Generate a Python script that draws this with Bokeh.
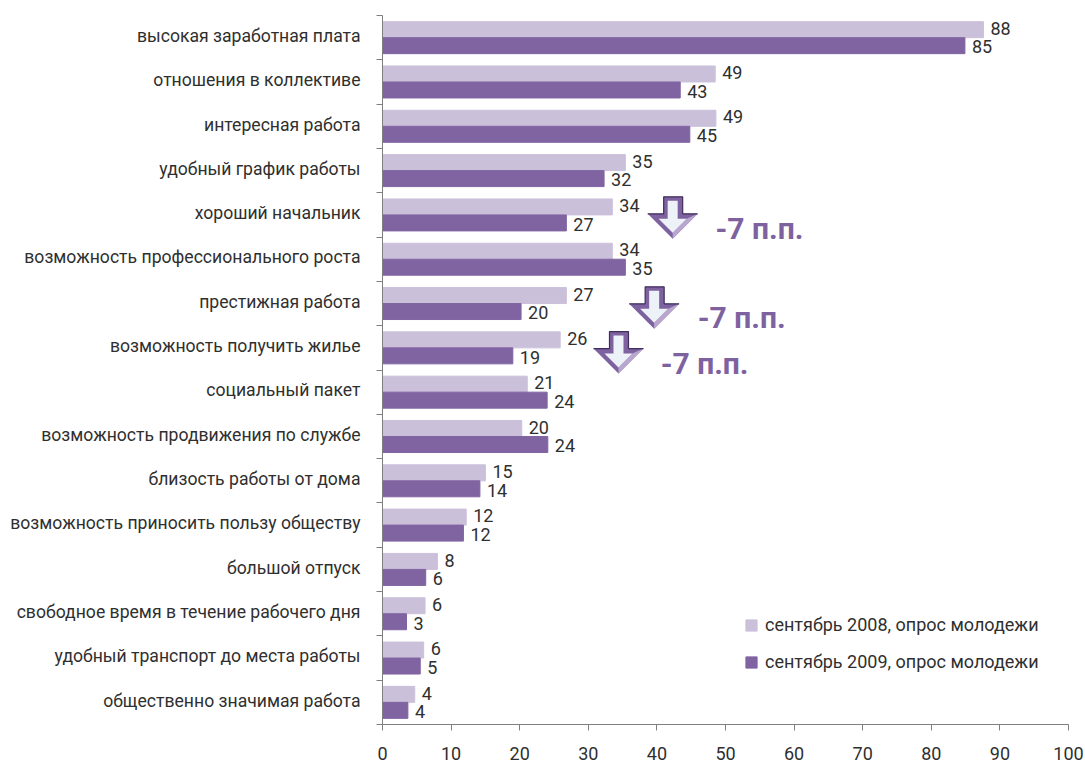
from bokeh.plotting import figure
from bokeh.models import Range1d, FixedTicker, Legend, LegendItem, ColumnDataSource
from bokeh.core.properties import value
from bokeh.embed import file_html
from bokeh.resources import INLINE

categories = ["высокая заработная плата", "отношения в коллективе", "интересная работа",
              "удобный график работы", "хороший начальник", "возможность профессионального роста",
              "престижная работа", "возможность получить жилье", "социальный пакет",
              "возможность продвижения по службе", "близость работы от дома",
              "возможность приносить пользу обществу", "большой отпуск",
              "свободное время в течение рабочего дня", "удобный транспорт до места работы",
              "общественно значимая работа"]
values_2008 = [87.6, 48.5, 48.6, 35.4, 33.5, 33.5, 26.8, 25.9, 21.1, 20.3, 15.0, 12.2, 8.0, 6.2, 6.0, 4.7]
values_2009 = [84.9, 43.4, 44.8, 32.3, 26.8, 35.4, 20.2, 19.0, 24.0, 24.1, 14.2, 11.8, 6.3, 3.5, 5.5, 3.7]
labels_2008 = ["88", "49", "49", "35", "34", "34", "27", "26", "21", "20", "15", "12", "8", "6", "6", "4"]
labels_2009 = ["85", "43", "45", "32", "27", "35", "20", "19", "24", "24", "14", "12", "6", "3", "5", "4"]
series_names = ["сентябрь 2008, опрос молодежи", "сентябрь 2009, опрос молодежи"]
x_ticks = [0, 10, 20, 30, 40, 50, 60, 70, 80, 90, 100]
# callouts: arrow tip (x value, row position) and the note beside it
callout_x = [42.3, 39.6, 34.4]
callout_y = [5.04, 7.07, 8.08]
callout_text_x = [48.55, 45.95, 40.55]
callout_text_y = [4.8, 6.81, 7.85]
callout_text = ["-7 п.п.", "-7 п.п.", "-7 п.п."]

FONT = "Roboto"
LIGHT = "#cbc0da"
DARK = "#8064a2"
INK = "#2f2f2f"
AXIS = "#7f7f7f"
PX_X = 100 / 686
PX_Y = 16 / 709

p = figure(width=1085, height=762, output_backend="svg", toolbar_location=None,
           x_range=Range1d(0, 100), y_range=Range1d(16, 0),
           min_border_left=382, min_border_right=17, min_border_top=15, min_border_bottom=38)
p.xgrid.visible = False
p.ygrid.visible = False
p.outline_line_color = None
p.background_fill_color = None
p.border_fill_color = "white"

n = len(categories)
centers = [i + 0.5 for i in range(n)]
h = 16 * PX_Y

src = ColumnDataSource(dict(
    y08=[c - h / 2 for c in centers], y09=[c + h / 2 for c in centers],
    v08=values_2008, v09=values_2009, l08=labels_2008, l09=labels_2009,
    ty08=[c - h / 2 - 0.03 for c in centers], ty09=[c + h / 2 + 0.03 for c in centers]))
r08 = p.hbar(y="y08", right="v08", left=0, height=h, color=LIGHT, source=src)
r09 = p.hbar(y="y09", right="v09", left=0, height=h, color=DARK, source=src)
for xc, yc, tc in (("v08", "ty08", "l08"), ("v09", "ty09", "l09")):
    p.text(x=xc, y=yc, text=tc, source=src, x_offset=7, text_baseline="middle", text_align="left",
           text_color=INK, text_font=value(FONT), text_font_size="18px")

# down arrows
for tx, ty in zip(callout_x, callout_y):
    def pts(coords):
        return [tx + a * PX_X for a, b in coords], [ty + b * PX_Y for a, b in coords]
    outer = [(-9, -42), (10, -42), (10, -25), (25, -25), (0, 0), (-25, -25), (-9, -25)]
    inner = [(-5, -38), (5, -38), (5, -20), (14, -20), (0, -6), (-14, -20), (-5, -20)]
    xs, ys = pts(outer)
    p.patch(xs, ys, fill_color="#7e62a0", line_color=None)
    xs, ys = pts([(25, -25), (0, 0), (0, -6), (14, -20)])
    p.patch(xs, ys, fill_color="#b8a6cf", line_color=None)
    xs, ys = pts(inner)
    p.patch(xs, ys, fill_color="#edf1f8", line_color=None)
    xs, ys = pts([(-25, -25), (-9, -25), (-9, -42), (10, -42), (10, -25), (25, -25)])
    p.line(xs, ys, line_color="#3f2d5c", line_width=1.2)

p.text(x=callout_text_x, y=callout_text_y, text=callout_text, text_color="#7e62a0",
       text_font=value(FONT), text_font_style="bold", text_font_size="30px",
       text_baseline="middle", text_align="left")

xa = p.xaxis[0]
xa.ticker = FixedTicker(ticks=x_ticks)
xa.axis_line_color = AXIS
xa.major_tick_line_color = AXIS
xa.major_tick_in = 0
xa.major_tick_out = 6
xa.minor_tick_line_color = None
xa.major_label_standoff = 16
xa.major_label_text_font = FONT
xa.major_label_text_font_size = "18px"
xa.major_label_text_color = INK

label_pos = [c - 0.04 for c in centers]
ya = p.yaxis[0]
ya.ticker = FixedTicker(ticks=label_pos, minor_ticks=list(range(n + 1)))
ya.major_label_overrides = {c: t for c, t in zip(label_pos, categories)}
ya.axis_line_color = AXIS
ya.major_tick_line_color = None
ya.major_tick_in = 0
ya.major_tick_out = 0
ya.minor_tick_line_color = AXIS
ya.minor_tick_in = 0
ya.minor_tick_out = 6
ya.major_label_standoff = 16
ya.major_label_text_font = FONT
ya.major_label_text_font_size = "17.6px"
ya.major_label_text_color = INK

legend = Legend(items=[LegendItem(label=series_names[0], renderers=[r08]),
                       LegendItem(label=series_names[1], renderers=[r09])],
                location=(362, 52), orientation="vertical",
                border_line_color=None, background_fill_color=None, background_fill_alpha=0,
                glyph_width=14, glyph_height=14, label_standoff=7, spacing=16, padding=0, margin=0,
                label_text_font=FONT, label_text_font_size="18px", label_text_color=INK,
                label_height=14)
p.add_layout(legend)

open("out.html", "w").write(file_html(p, INLINE))
